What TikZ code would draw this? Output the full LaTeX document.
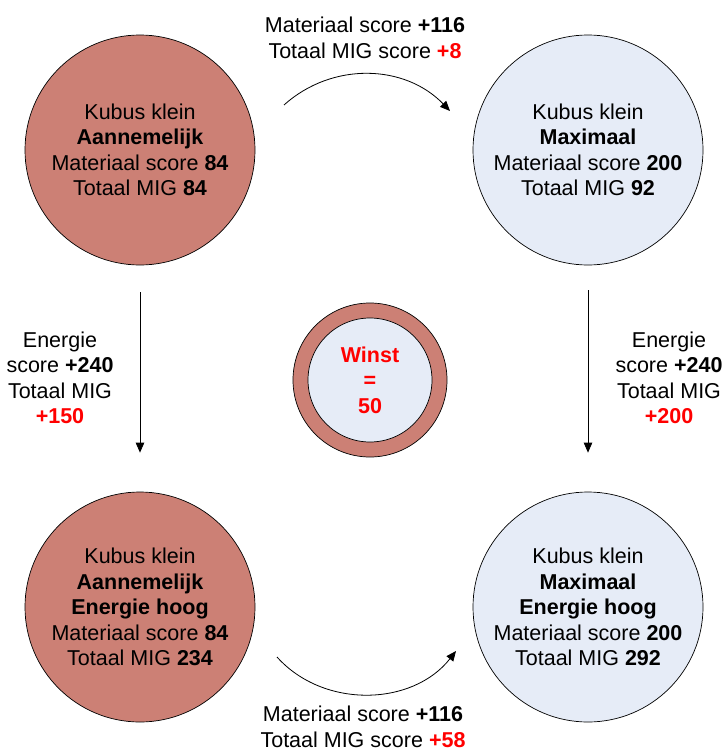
\documentclass[tikz,border=0pt]{standalone}
\usepackage{fontspec}
\setmainfont{Liberation Sans}
\usetikzlibrary{arrows.meta}
\definecolor{salmon}{RGB}{204,128,117}
\definecolor{paleblue}{RGB}{230,236,247}
\definecolor{winred}{RGB}{255,0,0}
\begin{document}
\begin{tikzpicture}[x=1pt,y=-1pt,
  txt/.style={font=\fontsize{21.5}{25.5}\selectfont, align=center, inner sep=0pt},
  state/.style={txt, circle, draw=black, line width=0.7pt, minimum size=230pt},
  conn/.style={draw=black, line width=0.8pt, -{Triangle[length=10pt,width=8.5pt]}},
  lbl/.style={txt}
]
\useasboundingbox (0,0) rectangle (726,752);

\node[state, fill=salmon] (tl) at (140,150) {Kubus klein\\\textbf{Aannemelijk}\\Materiaal score \textbf{84}\\Totaal MIG \textbf{84}};
\node[state, fill=paleblue] (tr) at (588,150) {Kubus klein\\\textbf{Maximaal}\\Materiaal score \textbf{200}\\Totaal MIG \textbf{92}};
\node[state, fill=salmon] (bl) at (140,607) {Kubus klein\\\textbf{Aannemelijk}\\\textbf{Energie hoog}\\Materiaal score \textbf{84}\\Totaal MIG \textbf{234}};
\node[state, fill=paleblue] (br) at (588,607) {Kubus klein\\\textbf{Maximaal}\\\textbf{Energie hoog}\\Materiaal score \textbf{200}\\Totaal MIG \textbf{292}};

\node[circle, draw=black, line width=0.7pt, fill=salmon, minimum size=154pt] (wo) at (370,380) {};
\node[txt, circle, draw=black, line width=0.7pt, fill=paleblue, minimum size=124pt, text=winred, font=\fontsize{21.5}{25.5}\selectfont\bfseries] (wi) at (370,380) {Winst\\=\\50};

\coordinate (a1) at (284,105);
\coordinate (a2) at (450,111);
\draw[conn] (a1) to[bend left=44] (a2);
\coordinate (b1) at (277,657);
\coordinate (b2) at (456,651);
\draw[conn] (b1) to[bend right=50] (b2);

\draw[conn, shorten <=27pt, shorten >=39pt] (tl) -- (bl);
\draw[conn, shorten <=25pt, shorten >=39pt] (tr) -- (br);

\node[lbl] (ltop) at (365,38) {Materiaal score \textbf{+116}\\Totaal MIG score \textcolor{winred}{\textbf{+8}}};
\node[lbl] (lbot) at (363,727) {Materiaal score \textbf{+116}\\Totaal MIG score \textcolor{winred}{\textbf{+58}}};
\node[lbl] (lleft) at (60,378) {Energie\\score \textbf{+240}\\Totaal MIG\\\textcolor{winred}{\textbf{+150}}};
\node[lbl] (lright) at (669,378) {Energie\\score \textbf{+240}\\Totaal MIG\\\textcolor{winred}{\textbf{+200}}};
\end{tikzpicture}
\end{document}
